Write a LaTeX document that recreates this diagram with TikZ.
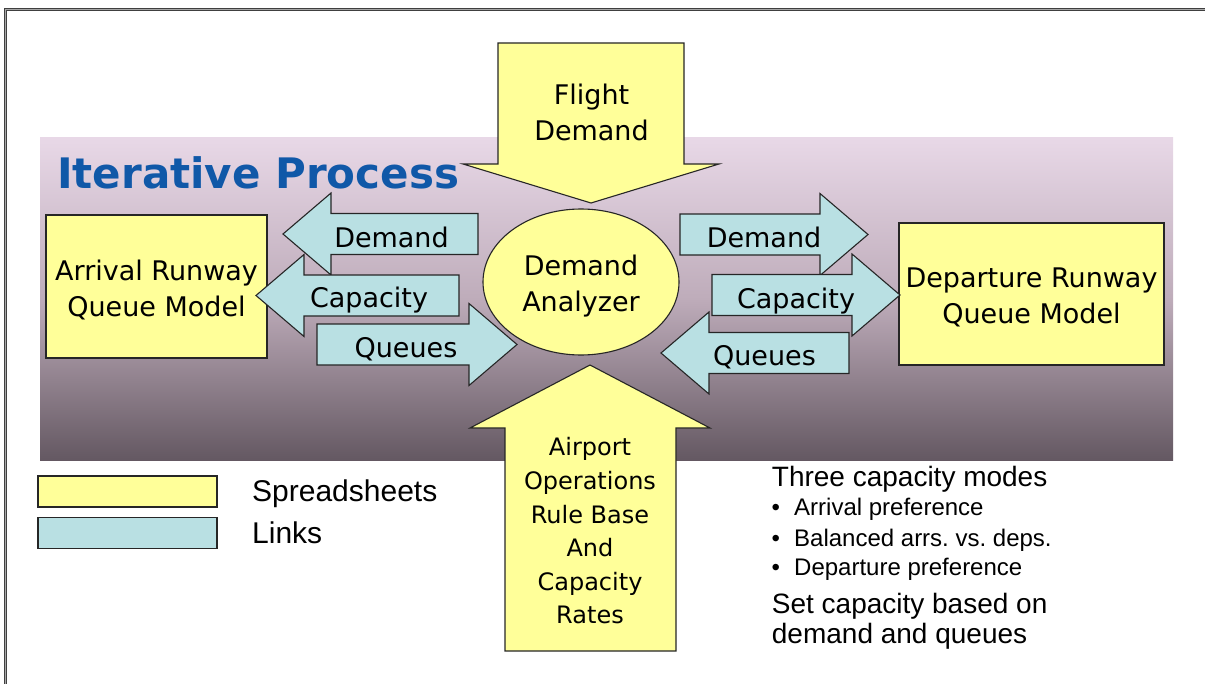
\documentclass[tikz,border=0pt]{standalone}
\usepackage{fontspec}
\setmainfont{DejaVu Sans}
\newfontfamily\notefont{Liberation Sans}
\usetikzlibrary{shapes.geometric}
\definecolor{sheetyellow}{RGB}{255,255,153}
\definecolor{linkblue}{RGB}{185,224,227}
\definecolor{titleblue}{RGB}{16,88,168}
\definecolor{bandtop}{RGB}{232,216,231}
\definecolor{bandmid}{RGB}{190,172,186}
\definecolor{bandbot}{RGB}{100,88,98}
\frenchspacing
\begin{document}
\begin{tikzpicture}[
 x=1bp,y=-1bp,
 outline/.style={draw=black!85,line width=1.1bp},
 sheet/.style={outline,fill=sheetyellow},
 link/.style={outline,fill=linkblue},
 label/.style={font=\fontsize{27bp}{36bp}\selectfont,align=center,inner sep=0},
 small/.style={font=\fontsize{24bp}{33.6bp}\selectfont,align=center,inner sep=0},
 legend/.style={font=\notefont\fontsize{30bp}{36bp}\selectfont,anchor=base west,inner sep=0},
 note/.style={font=\notefont\fontsize{28bp}{34bp}\selectfont,anchor=base west,inner sep=0},
 bullet/.style={font=\notefont\fontsize{24bp}{29bp}\selectfont,anchor=base west,inner sep=0}]
 \useasboundingbox (0,0) rectangle (1205,684);
 % Frame, runs off the right and bottom edges.
 \draw[draw=black!75,line width=1bp,double=black!35,double distance=1.2bp] (5.3,9.5) rectangle (1240,720);
 % Shaded band of the iterative process.
 \fill[top color=bandtop,bottom color=bandbot,middle color=bandmid] (40,138) rectangle (1173,460);
 \node[anchor=base west,inner sep=0,text=titleblue,font=\bfseries\fontsize{42bp}{42bp}\selectfont] (title) at (57,188.3) {Iterative Process};
 % Inputs from above and below.
 \draw[sheet] (498,43) -- (684,43) -- (684,164) -- (719,164) -- (591,203) -- (463,164) -- (498,164) -- cycle;
 \node[label] (flight) at (591.5,112) {Flight\\Demand};
 \draw[sheet] (505,651) -- (676,651) -- (676,428) -- (710,428) -- (590,365) -- (470,428) -- (505,428) -- cycle;
 \node[small] (rules) at (590,531) {Airport\\Operations\\Rule Base\\And\\Capacity\\Rates};
 % Spreadsheets.
 \node[sheet,label,text height=62.5bp,minimum width=221bp,minimum height=143bp] (arrival) at (156.5,286.5) {Arrival Runway\\Queue Model};
 \node[sheet,label,text height=62.7bp,minimum width=265bp,minimum height=142bp] (departure) at (1031.5,294) {Departure Runway\\Queue Model};
 \node[sheet,label,ellipse,text height=64.5bp,minimum width=196bp,minimum height=146bp] (analyzer) at (581,282) {Demand\\Analyzer};
 % Links, tip / tail / label.
 \foreach \nm/\tx/\ty/\ex/\lx/\ly/\txt in {
   demL/283/234/478/391.5/247/Demand, capL/256/295.5/459/369/307/Capacity, queL/517/344.5/317/406/357/Queues,
   demR/868/234.5/680/764/247/Demand, capR/900/295/712/796/308/Capacity, queR/661/353/849/764.5/365/Queues}{
  \pgfmathsetmacro\s{sign(\ex-\tx)}
  \draw[link] (\tx,\ty) -- ++(\s*48,-41) -- ++(0,20.5) -- (\ex,\ty-20.5) -- (\ex,\ty+20.5)
   -- (\tx+\s*48,\ty+20.5) -- ++(0,20.5) -- cycle;
  \node[label,anchor=base] (\nm) at (\lx,\ly) {\txt};
 }
 % Legend.
 \node[sheet,minimum width=179bp,minimum height=31bp,inner sep=0] (keysheet) at (127.5,491.5) {};
 \node[link,minimum width=179bp,minimum height=31bp,inner sep=0] (keylink) at (127.5,533) {};
 \node[legend] (keysheettext) at (252,501.5) {Spreadsheets};
 \node[legend] (keylinktext) at (252,543.3) {Links};
 % Capacity modes.
 \node[note] (modes) at (771.7,486) {Three capacity modes};
 \foreach \nm/\y/\txt in {arrpref/515/Arrival preference, balanced/546/Balanced arrs. vs. deps., deppref/575/Departure preference}{
  \node[bullet] (\nm dot) at (771.5,\y) {\textbullet};
  \node[bullet] (\nm) at (794,\y) {\txt};
 }
 \node[note] (setcap) at (771.7,613) {Set capacity based on};
 \node[note] (setcapb) at (771.7,643) {demand and queues};
\end{tikzpicture}
\end{document}
